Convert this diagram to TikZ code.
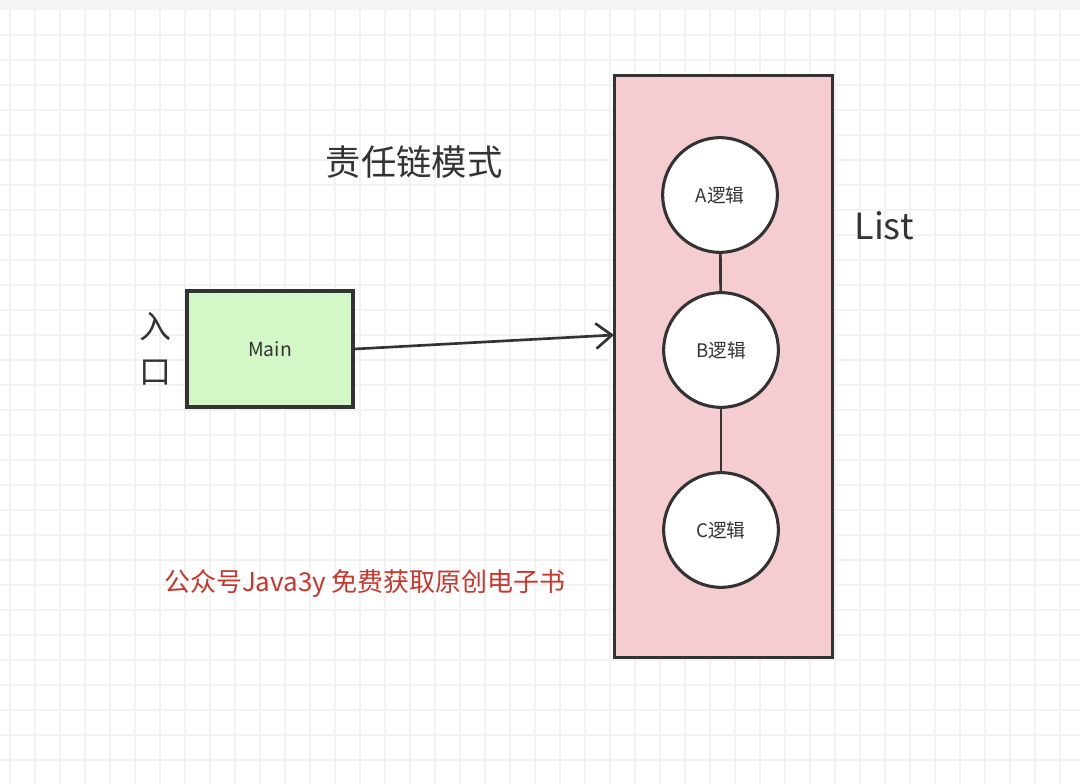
\documentclass[tikz,border=0pt]{standalone}
\usepackage{fontspec}
\setmainfont{Noto Sans CJK SC}
\usetikzlibrary{arrows.meta}
\definecolor{ink}{HTML}{333333}
\definecolor{mainfill}{HTML}{D4F7C8}
\definecolor{listfill}{HTML}{F5CCCF}
\definecolor{tipred}{HTML}{C8372D}
\tikzset{
  logic/.style={circle, draw=ink, line width=2.3pt, fill=white, minimum size=86pt,
    inner sep=0pt, font=\fontsize{14}{16}\selectfont, text=ink},
  link/.style={draw=ink, line width=2pt}
}
\begin{document}
\begin{tikzpicture}[x=0.75pt, y=-0.75pt]
            \useasboundingbox (0,0) rectangle (1080,784);
            \fill[white] (0,0) rectangle (1080,784);
            \fill[gray!8] (0,0) rectangle (1080,10);

            % Raster
            \foreach \gx in {10,35,...,1080}
                \draw[gray!10, line width=0.8pt] (\gx,10) -- (\gx,784);
            \foreach \gy in {35,60,...,784}
                \draw[gray!10, line width=0.8pt] (0,\gy) -- (1080,\gy);

            \node[font=\fontsize{26.5}{30}\selectfont, text=ink] (title) at (414,162) {责任链模式};

            \node[draw=ink, line width=2.3pt, fill=mainfill, minimum width=124.5pt, minimum height=87pt,
                font=\fontsize{14.5}{16}\selectfont, text=ink] (main) at (270,349) {Main};
            \node[font=\fontsize{24}{34}\selectfont, text=ink, align=center] (entry) at (155,349) {入\\口};

            \node[draw=ink, line width=2.3pt, fill=listfill, minimum width=164pt, minimum height=437pt] (list) at (723.5,366.5) {};
            \node[font=\fontsize{27}{30}\selectfont, text=ink] (listlabel) at (884,226) {List};

            \node[logic] (logicA) at (720,195) {A逻辑};
            \node[logic] (logicB) at (721,350) {B逻辑};
            \node[logic] (logicC) at (721,530) {C逻辑};
            \draw[link] (logicA) -- (logicB);
            \draw[link] (logicB) -- (logicC);

            % Eingang in die Liste
            \coordinate (listin) at (614,335);
            \draw[link, -{Straight Barb[length=12pt, width=19pt, line width=2pt]}] (main.east) -- (listin);

            \node[font=\fontsize{19.5}{22}\selectfont, text=tipred] (promo) at (365,584) {公众号Java3y 免费获取原创电子书};
\end{tikzpicture}
\end{document}
